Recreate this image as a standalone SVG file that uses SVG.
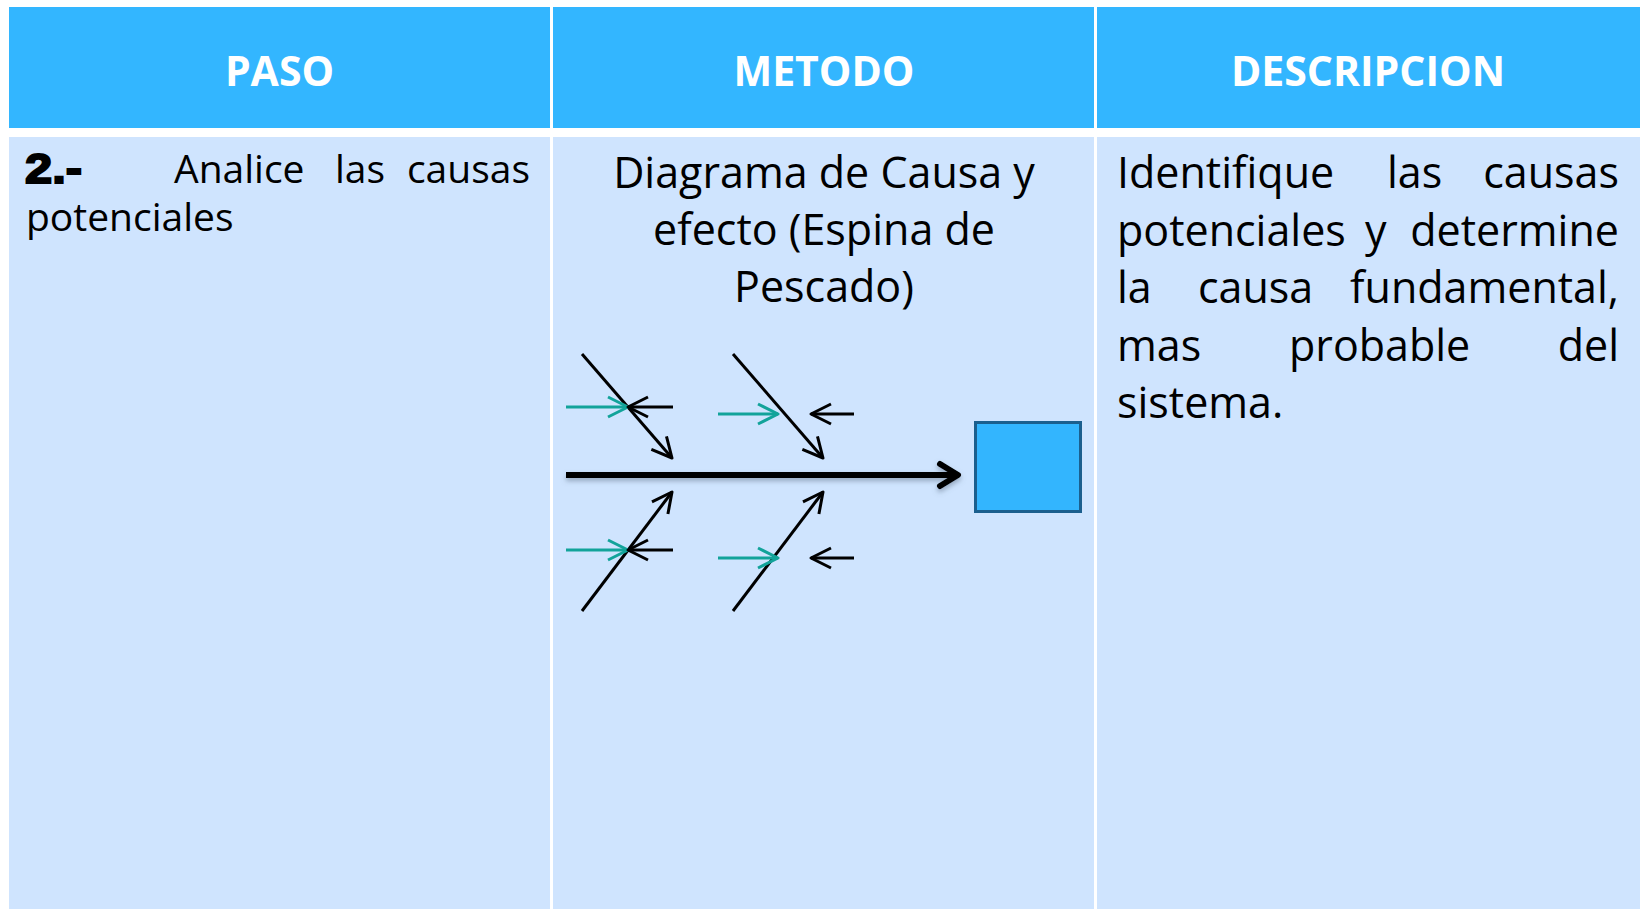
<svg xmlns="http://www.w3.org/2000/svg" width="1640" height="909" viewBox="0 0 1640 909">
<style>
.hd{fill:#33B6FF}
.bd{fill:#CFE4FE}
.ht{font-family:"Open Sans","Noto Sans",sans-serif;font-weight:bold;font-size:41px;fill:#FFFFFF;text-anchor:middle}
.tx{font-family:"Open Sans","Noto Sans",sans-serif;font-size:43px;fill:#000}
.t1{font-family:"Open Sans","Noto Sans",sans-serif;font-size:39px;fill:#000}
.num{font-family:"Liberation Sans",sans-serif;font-weight:900;font-size:43px;fill:#000;stroke:#000;stroke-width:2}
.bone{stroke:#000;stroke-width:3;fill:none;marker-end:url(#ahk)}
.tl{stroke:#12A39A;stroke-width:3;fill:none;marker-end:url(#aht)}
.bk{stroke:#000;stroke-width:3;fill:none;marker-end:url(#ahk)}
</style>
<defs>
<marker id="ahk" markerUnits="userSpaceOnUse" markerWidth="30" markerHeight="30" viewBox="0 0 30 30" refX="25" refY="15" orient="auto">
<path d="M5,5 L25,15 L5,25" fill="none" stroke="#000" stroke-width="3" stroke-linejoin="round"/>
</marker>
<marker id="aht" markerUnits="userSpaceOnUse" markerWidth="30" markerHeight="30" viewBox="0 0 30 30" refX="25" refY="15" orient="auto">
<path d="M5,5 L25,15 L5,25" fill="none" stroke="#12A39A" stroke-width="3" stroke-linejoin="round"/>
</marker>
<filter id="sh" filterUnits="userSpaceOnUse" x="540" y="440" width="460" height="70">
<feDropShadow dx="0" dy="3" stdDeviation="2.5" flood-color="#5a6a80" flood-opacity="0.5"/>
</filter>
</defs>
<rect width="1640" height="909" fill="#FFFFFF"/>
<g id="header">
<rect class="hd" x="9" y="7" width="541" height="121"/>
<rect class="hd" x="553" y="7" width="541" height="121"/>
<rect class="hd" x="1097" y="7" width="543" height="121"/>
<text class="ht" x="279.5" y="86">PASO</text>
<text class="ht" x="824" y="86">METODO</text>
<text class="ht" x="1368" y="86">DESCRIPCION</text>
</g>
<g id="col-paso">
<rect class="bd" x="9" y="137" width="541" height="772"/>
<text class="num" x="25" y="183" textLength="57" lengthAdjust="spacingAndGlyphs">2.-</text>
<text class="t1" x="174" y="183">Analice</text>
<text class="t1" x="335" y="183">las</text>
<text class="t1" x="530" y="183" text-anchor="end">causas</text>
<text class="t1" x="26" y="231">potenciales</text>
</g>
<g id="col-metodo">
<rect class="bd" x="553" y="137" width="541" height="772"/>
<text class="tx" x="824" y="188" text-anchor="middle">Diagrama de Causa y</text>
<text class="tx" x="824" y="245" text-anchor="middle">efecto (Espina de</text>
<text class="tx" x="824" y="302" text-anchor="middle">Pescado)</text>
</g>
<g id="col-descripcion">
<rect class="bd" x="1097" y="137" width="543" height="772"/>
<text class="tx" x="1117" y="188">Identifique</text>
<text class="tx" x="1387" y="188">las</text>
<text class="tx" x="1619" y="188" text-anchor="end">causas</text>
<text class="tx" x="1117" y="246">potenciales</text>
<text class="tx" x="1365" y="246">y</text>
<text class="tx" x="1619" y="246" text-anchor="end">determine</text>
<text class="tx" x="1117" y="303">la</text>
<text class="tx" x="1198" y="303">causa</text>
<text class="tx" x="1619" y="303" text-anchor="end">fundamental,</text>
<text class="tx" x="1117" y="361">mas</text>
<text class="tx" x="1289" y="361">probable</text>
<text class="tx" x="1619" y="361" text-anchor="end">del</text>
<text class="tx" x="1117" y="418">sistema.</text>
</g>
<g id="effect-box">
<rect x="975.5" y="422.5" width="105" height="89" fill="#33B5FE" stroke="#1B5F8E" stroke-width="3"/>
</g>
<g id="connectors">
<g filter="url(#sh)">
<path d="M566,475 H956" fill="none" stroke="#000" stroke-width="6"/>
<path d="M940,464 L958,475 L940,486" fill="none" stroke="#000" stroke-width="6" stroke-linejoin="round" stroke-linecap="round"/>
</g>
<line class="bone" x1="582" y1="354" x2="672" y2="458"/>
<line class="bone" x1="733" y1="354" x2="823" y2="458"/>
<line class="bone" x1="582" y1="611" x2="672" y2="492"/>
<line class="bone" x1="733" y1="611" x2="823" y2="492"/>
<line class="tl" x1="566" y1="407" x2="628" y2="407"/>
<line class="tl" x1="718" y1="414" x2="778" y2="414"/>
<line class="tl" x1="566" y1="550" x2="628" y2="550"/>
<line class="tl" x1="718" y1="558" x2="778" y2="558"/>
<line class="bk" x1="673" y1="407" x2="628" y2="407"/>
<line class="bk" x1="854" y1="414" x2="811" y2="414"/>
<line class="bk" x1="673" y1="550" x2="628" y2="550"/>
<line class="bk" x1="854" y1="558" x2="811" y2="558"/>
</g>
</svg>
